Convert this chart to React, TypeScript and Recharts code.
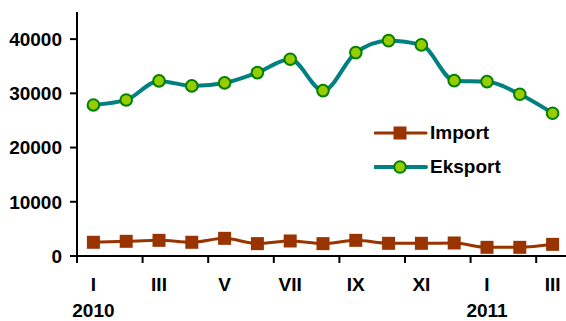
import React from "react";
import { LineChart, Line, XAxis, YAxis } from "recharts";

const months = ["I", "II", "III", "IV", "V", "VI", "VII", "VIII", "IX", "X", "XI", "XII", "I", "II", "III"];
const years = ["2010", "", "", "", "", "", "", "", "", "", "", "", "2011", "", ""];
const importValues = [2530, 2710, 2890, 2530, 3260, 2280, 2770, 2280, 2890, 2340, 2340, 2400, 1600, 1600, 2150];
const eksportValues = [27860, 28780, 32290, 31370, 31920, 33820, 36290, 30500, 37510, 39720, 38930, 32340, 32160, 29830, 26330];
const yTicks = [0, 10000, 20000, 30000, 40000];

const data = months.map((m, i) => ({
  key: i,
  month: m,
  year: years[i],
  Import: importValues[i],
  Eksport: eksportValues[i],
}));

const FONT = "Arial, 'Liberation Sans', sans-serif";

const XTick = (props: any) => {
  const { x, y, payload, index } = props;
  const idx = index ?? payload.index;
  if (idx % 2 !== 0) return null;
  const half = payload.offset || 16.4;
  const d = data[idx];
  return (
    <g>
      <line x1={x - half} x2={x - half} y1={y} y2={y + 7} stroke="#000" strokeWidth={2} />
      <text x={x} y={y + 35} textAnchor="middle" fontFamily={FONT} fontWeight="bold" fontSize={19} fill="#000">
        {d.month}
      </text>
      {d.year ? (
        <text x={x} y={y + 61} textAnchor="middle" fontFamily={FONT} fontWeight="bold" fontSize={19} fill="#000">
          {d.year}
        </text>
      ) : null}
    </g>
  );
};

const SquareDot = (props: any) => {
  const { cx, cy } = props;
  if (cx == null || cy == null) return null;
  return <rect x={cx - 6.5} y={cy - 6.5} width={13} height={13} fill="#993300" />;
};

const CircleDot = (props: any) => {
  const { cx, cy } = props;
  if (cx == null || cy == null) return null;
  return <circle cx={cx} cy={cy} r={5.8} fill="#99CC00" stroke="#008000" strokeWidth={2} />;
};

const LegendBox = () => (
  <div
    style={{
      position: "absolute",
      left: 374,
      top: 116,
      fontFamily: FONT,
      fontWeight: "bold",
      fontSize: 19,
      color: "#000",
    }}
  >
    <div style={{ display: "flex", alignItems: "center", height: 34 }}>
      <svg width={54} height={20}>
        <line x1={1} x2={52} y1={10} y2={10} stroke="#993300" strokeWidth={3} strokeLinecap="round" />
        <rect x={19.5} y={3.5} width={13} height={13} fill="#993300" />
      </svg>
      <span style={{ marginLeft: 2 }}>Import</span>
    </div>
    <div style={{ display: "flex", alignItems: "center", height: 34 }}>
      <svg width={54} height={20}>
        <line x1={1} x2={52} y1={10} y2={10} stroke="#008080" strokeWidth={4} strokeLinecap="round" />
        <circle cx={26} cy={10} r={5.8} fill="#99CC00" stroke="#008000" strokeWidth={2} />
      </svg>
      <span style={{ marginLeft: 2 }}>Eksport</span>
    </div>
  </div>
);

export default function App() {
  return (
    <div style={{ position: "absolute", left: 0, top: 0, width: 566, height: 321, overflow: "hidden", background: "#fff" }}>
      <LineChart width={580} height={321} data={data} margin={{ top: 12, right: 11, bottom: 0, left: 0 }}>
        <XAxis
          dataKey="key"
          type="category"
          scale="band"
          height={65}
          interval={0}
          tickSize={0}
          tickMargin={0}
          tickLine={false}
          axisLine={{ stroke: "#000", strokeWidth: 2 }}
          tick={<XTick />}
        />
        <YAxis
          width={77}
          domain={[0, 45000]}
          ticks={yTicks}
          interval={0}
          tickSize={7}
          tickMargin={8}
          axisLine={{ stroke: "#000", strokeWidth: 2 }}
          tickLine={{ stroke: "#000", strokeWidth: 2 }}
          tick={{ fontFamily: FONT, fontWeight: "bold", fontSize: 19, fill: "#000" }}
        />
        <Line
          type="monotone"
          dataKey="Import"
          stroke="#993300"
          strokeWidth={3}
          dot={<SquareDot />}
          activeDot={false}
          isAnimationActive={false}
        />
        <Line
          type="monotone"
          dataKey="Eksport"
          stroke="#008080"
          strokeWidth={4}
          dot={<CircleDot />}
          activeDot={false}
          isAnimationActive={false}
        />
      </LineChart>
      <LegendBox />
    </div>
  );
}
